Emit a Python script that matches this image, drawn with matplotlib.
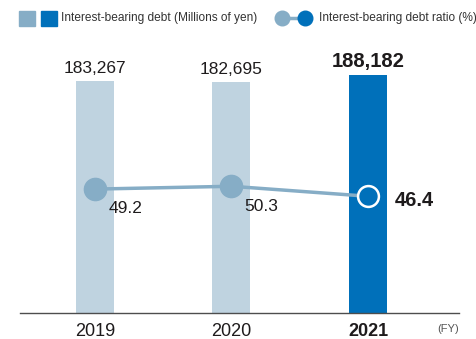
import matplotlib
matplotlib.use("Agg")
import matplotlib.pyplot as plt
from matplotlib.patches import Rectangle
from matplotlib.lines import Line2D

plt.rcParams['font.family'] = ['Liberation Sans', 'DejaVu Sans']

years = ["2019", "2020", "2021"]
debt = [183267, 182695, 188182]
ratio = [49.2, 50.3, 46.4]

LIGHT_BAR = "#bfd3e0"
DARK_BAR = "#0070ba"
LINE_COL = "#86adc6"
TEXT_COL = "#1e1b1c"

W, H = 477, 339
fig = plt.figure(figsize=(W / 100, H / 100), dpi=100)

def fx(px):
    return px / W

def fy(py):
    return 1 - py / H

# plotting area: baseline at y=313px, top at y=40px
ax = fig.add_axes([fx(20), fy(313), fx(459) - fx(20), fy(40) - fy(313)])
ax2 = ax.twinx()
ax.set_zorder(1)
ax2.set_zorder(2)
ax.patch.set_visible(False)
ax2.patch.set_visible(False)

x = list(range(len(years)))
colors = [LIGHT_BAR, LIGHT_BAR, DARK_BAR]
ax.bar(x, debt, width=0.278, color=colors, zorder=2)
ax.set_xlim(-0.549, 2.667)
ax.set_ylim(0, 215850)

for i, v in enumerate(debt):
    last = i == len(debt) - 1
    ax.annotate(f"{v:,}", (i, v), xytext=(0, 6), textcoords="offset points",
                ha="center", va="baseline", color=TEXT_COL,
                fontsize=14.5 if last else 12.5,
                fontweight="bold" if last else "normal")

# ratio line on secondary scale
ax2.set_ylim(0.78, 107.46)
ax2.plot(x, ratio, color=LINE_COL, lw=2.5, zorder=3, solid_capstyle="butt")
ax2.plot(x[:-1], ratio[:-1], "o", ms=16, color=LINE_COL, mec=LINE_COL, zorder=4)
ax2.plot(x[-1:], ratio[-1:], "o", ms=15, color=DARK_BAR, mec="white", mew=1.8, zorder=4)

offsets = [(10, -17.5), (9, -17.5), (19, -7)]
for i, v in enumerate(ratio):
    last = i == len(ratio) - 1
    ax2.annotate(f"{v}", (i, v), xytext=offsets[i], textcoords="offset points",
                 ha="left", va="baseline", color=TEXT_COL,
                 fontsize=14.5 if last else 12.5,
                 fontweight="bold" if last else "normal")

for a in (ax, ax2):
    for s in ("top", "right", "left"):
        a.spines[s].set_visible(False)
    a.set_yticks([])
ax2.spines["bottom"].set_visible(False)
ax.spines["bottom"].set_color("#4d4d4d")
ax.spines["bottom"].set_linewidth(1.0)

ax.set_xticks(x)
ax.set_xticklabels(years, fontsize=13, color=TEXT_COL)
ax.get_xticklabels()[-1].set_fontweight("bold")
ax.tick_params(axis="x", length=0, pad=7)

fig.text(fx(448), fy(329), "(FY)", fontsize=8, color="#555555", ha="center", va="center")

# legend
fig.add_artist(Rectangle((fx(19), fy(26)), fx(16), fy(11) - fy(26), color=LINE_COL,
                         transform=fig.transFigure))
fig.add_artist(Rectangle((fx(41), fy(26)), fx(16), fy(11) - fy(26), color=DARK_BAR,
                         transform=fig.transFigure))
fig.text(fx(61), fy(18), "Interest-bearing debt (Millions of yen)", fontsize=8.6,
         color="#333333", ha="left", va="center")
fig.add_artist(Line2D([fx(282), fx(305)], [fy(18), fy(18)], color=LINE_COL, lw=2.5,
                      transform=fig.transFigure))
fig.add_artist(Line2D([fx(282)], [fy(18)], marker="o", ms=10.5, color=LINE_COL,
                      transform=fig.transFigure))
fig.add_artist(Line2D([fx(305)], [fy(18)], marker="o", ms=10.5, color=DARK_BAR,
                      transform=fig.transFigure))
fig.text(fx(319), fy(18), "Interest-bearing debt ratio (%)", fontsize=8.6,
         color="#333333", ha="left", va="center")

fig.savefig("out.png", dpi=100)
